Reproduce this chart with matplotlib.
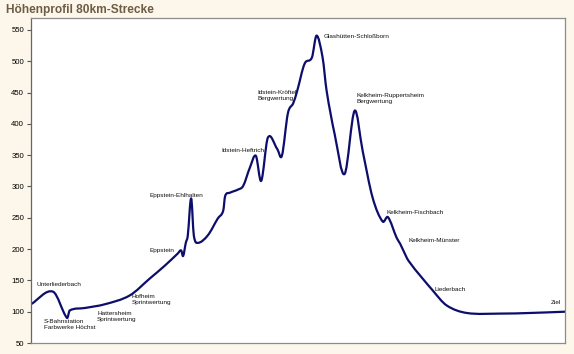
import matplotlib.pyplot as plt
from matplotlib.path import Path
from matplotlib.patches import PathPatch
import numpy as np

plt.rcParams['font.family'] = ['Liberation Sans', 'DejaVu Sans']

# Strecke in km und Höhe in m
km = [0.0, 3.3, 5.4, 5.8, 8.1, 11.1, 14.8, 17.8, 20.1, 22.0, 22.5, 22.8, 23.2,
      23.5, 24.0, 24.4, 25.0, 26.5, 28.0, 28.8, 29.1, 29.8, 31.0, 31.8, 32.8,
      33.7, 34.5, 35.5, 36.9, 37.6, 38.5, 39.3, 39.9, 41.0, 42.1, 42.8, 43.7,
      44.3, 45.5, 47.0, 48.5, 49.7, 51.2, 52.7, 53.5, 54.8, 55.3, 55.7, 56.6,
      60.2, 62.3, 65.3, 70.3, 74.8, 80.0]
hoehe = [112, 132, 90, 102, 106, 112, 126, 153, 174, 193, 198, 189, 210,
         222, 281, 222, 210, 222, 249, 261, 285, 290, 295, 301, 330,
         349, 309, 378, 360, 349, 417, 433, 453, 496, 506, 541, 506,
         453, 384, 320, 421, 357, 282, 244, 251, 218, 209, 200, 181,
         134, 110, 98, 97, 98, 100]

orte = ['Unterliederbach', 'S-Bahnstation\nFarbwerke Höchst', 'Hattersheim\nSprintwertung',
        'Hofheim\nSprintwertung', 'Eppstein', 'Eppstein-Ehlhalten', 'Idstein-Heftrich',
        'Idstein-Kröftel\nBergwertung', 'Glashütten-Schloßborn',
        'Kelkheim-Ruppertsheim\nBergwertung', 'Kelkheim-Fischbach', 'Kelkheim-Münster',
        'Liederbach', 'Ziel']
orte_km = [0.75, 1.95, 9.9, 15.1, 17.7, 17.7, 28.5, 33.9, 43.9, 48.8, 53.3, 56.5, 60.5, 77.9]
orte_h = [144, 79, 93, 119, 197, 286, 358, 445, 539, 440, 259, 213, 136, 115]

fig = plt.figure(figsize=(5.74, 3.54), dpi=100, facecolor='#fcf7ea')
ax = fig.add_axes([0.054, 0.031, 0.93, 0.918])
ax.set_facecolor('white')

# geglättete Linie (kubische Bezier-Stücke durch die Punkte)
x = np.array(km)
y = np.array(hoehe, dtype=float)
n = len(x)
m = np.empty(n)
m[1:-1] = (y[2:] - y[:-2]) / (x[2:] - x[:-2])
m[0] = (y[1] - y[0]) / (x[1] - x[0])
m[-1] = (y[-1] - y[-2]) / (x[-1] - x[-2])
verts = [(x[0], y[0])]
codes = [Path.MOVETO]
for i in range(n - 1):
    h = (x[i + 1] - x[i]) / 3
    verts += [(x[i] + h, y[i] + m[i] * h),
              (x[i + 1] - h, y[i + 1] - m[i + 1] * h),
              (x[i + 1], y[i + 1])]
    codes += [Path.CURVE4] * 3
ax.add_patch(PathPatch(Path(verts, codes), facecolor='none', edgecolor='#0d0d6b',
                       lw=1.6, capstyle='round', joinstyle='round'))

for name, kx, hy in zip(orte, orte_km, orte_h):
    ax.text(kx, hy, name, fontsize=4.6, ha='left', va='center', color='#111111',
            linespacing=1.25)

ax.set_xlim(0, 80)
ax.set_ylim(50, 569)
ax.set_yticks(range(50, 551, 50))
ax.set_xticks([])
ax.tick_params(axis='y', labelsize=5.6, length=3, width=0.8, color='#555555', pad=2)
for s in ax.spines.values():
    s.set_color('#8c8c8c')
    s.set_linewidth(0.9)
ax.spines['left'].set_color('#666666')

fig.text(0.010, 0.971, 'Höhenprofil 80km-Strecke', fontsize=8.6, fontweight='bold',
         color='#6e5d45', ha='left', va='center')

fig.savefig('out.png', dpi=100, facecolor=fig.get_facecolor())
